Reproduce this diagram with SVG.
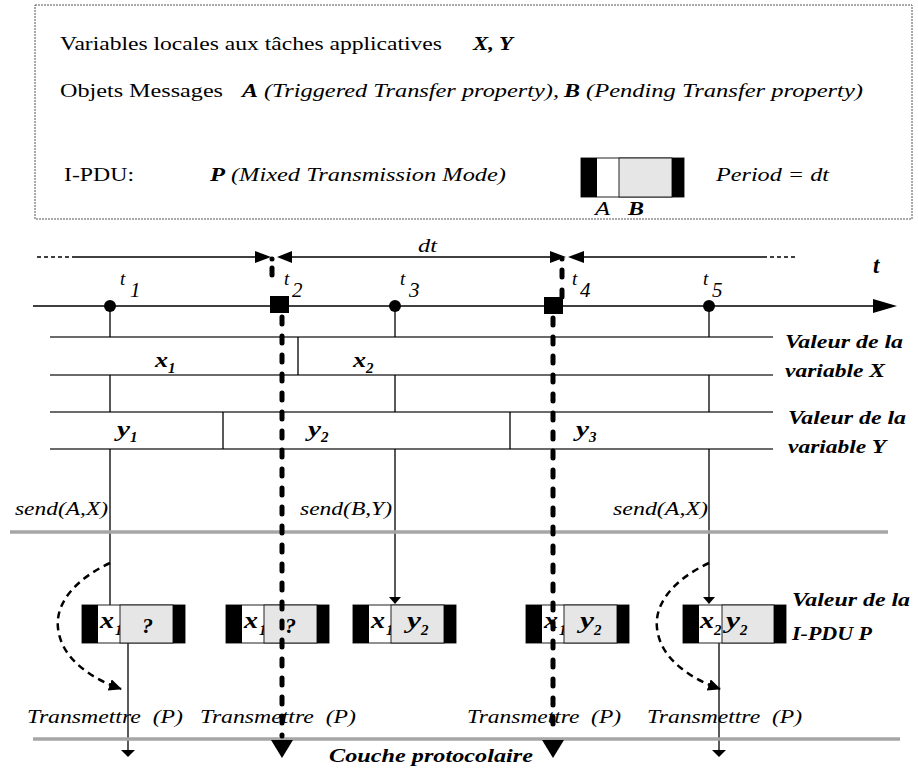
<svg xmlns="http://www.w3.org/2000/svg" width="918" height="769" viewBox="0 0 918 769">
<defs>
<style>
text{font-family:"Liberation Serif","Times New Roman",serif;font-size:19px;fill:#000}
.i{font-style:italic}
.bi{font-style:italic;font-weight:bold}
.sub{font-size:15px}
.big{font-size:24px}
.thin{stroke:#000;stroke-width:1.3;fill:none}
.hl{stroke:#3a3a3a;stroke-width:1.3;fill:none}
.gray{stroke:#a6a6a6;stroke-width:3.5;fill:none}
.thick{stroke:#000;stroke-width:5;stroke-dasharray:7 12;stroke-linecap:round;fill:none}
.curve{stroke:#000;stroke-width:2.5;stroke-dasharray:7 5;fill:none}
.cell{stroke:#222;stroke-width:1}
.w{fill:#fff}
.g{fill:#e6e6e6}
.k{fill:#000}
</style>
<marker id="ah" markerUnits="userSpaceOnUse" markerWidth="14" markerHeight="12" refX="12" refY="6" orient="auto"><path d="M0,0 L13,6 L0,12 z" fill="#000"/></marker>
</defs>
<rect width="918" height="769" fill="#fff"/>

<g id="legend">
<rect x="35" y="5" width="877" height="214" fill="none" stroke="#555" stroke-width="1" stroke-dasharray="2 1"/>
<text x="60" y="50" textLength="382" lengthAdjust="spacingAndGlyphs">Variables locales aux tâches applicatives</text>
<text class="bi" x="473" y="50" textLength="40" lengthAdjust="spacingAndGlyphs">X, Y</text>
<text x="60" y="97" textLength="163" lengthAdjust="spacingAndGlyphs">Objets Messages</text>
<text class="bi" x="242" y="97" textLength="16" lengthAdjust="spacingAndGlyphs">A</text>
<text class="i" x="264" y="97" textLength="295" lengthAdjust="spacingAndGlyphs">(Triggered Transfer property),</text>
<text class="bi" x="564" y="97" textLength="16" lengthAdjust="spacingAndGlyphs">B</text>
<text class="i" x="586" y="97" textLength="277" lengthAdjust="spacingAndGlyphs">(Pending Transfer property)</text>
<text x="64" y="181" textLength="70" lengthAdjust="spacingAndGlyphs">I-PDU:</text>
<text class="bi" x="210" y="181" textLength="15" lengthAdjust="spacingAndGlyphs">P</text>
<text class="i" x="231" y="181" textLength="275" lengthAdjust="spacingAndGlyphs">(Mixed Transmission Mode)</text>
<g id="legend-pdu">
<rect x="581" y="158" width="103" height="39" class="w cell"/>
<rect x="619" y="158" width="53" height="39" class="g cell"/>
<rect x="581" y="158" width="16" height="39" class="k"/>
<rect x="672" y="158" width="12" height="39" class="k"/>
</g>
<text class="i" x="595" y="215" textLength="15" lengthAdjust="spacingAndGlyphs">A</text>
<text class="bi" x="628" y="215" textLength="16" lengthAdjust="spacingAndGlyphs">B</text>
<text class="i" x="716" y="181" textLength="113" lengthAdjust="spacingAndGlyphs">Period = dt</text>
</g>

<g id="period">
<line x1="37" y1="257" x2="75" y2="257" stroke="#000" stroke-width="1.5" stroke-dasharray="4 3"/>
<line x1="75" y1="257" x2="257" y2="257" stroke="#000" stroke-width="1.5"/>
<line x1="291" y1="257" x2="551" y2="257" stroke="#000" stroke-width="1.5"/>
<line x1="583" y1="257" x2="763" y2="257" stroke="#000" stroke-width="1.5"/>
<line x1="763" y1="257" x2="795" y2="257" stroke="#000" stroke-width="1.5" stroke-dasharray="4 3"/>
<polygon points="255,251 271,257 255,263" class="k"/>
<polygon points="292,251 277,257 292,263" class="k"/>
<polygon points="550,251 566,257 550,263" class="k"/>
<polygon points="584,251 568,257 584,263" class="k"/>
<text class="i" x="418" y="252" textLength="19" lengthAdjust="spacingAndGlyphs">dt</text>
</g>

<g id="axis">
<line x1="33" y1="306" x2="876" y2="306" stroke="#000" stroke-width="1.5"/>
<polygon points="873,299 897,306 873,313" class="k"/>
<text class="bi" x="873" y="273" style="font-size:23px">t</text>
<circle cx="110" cy="306" r="6"/>
<circle cx="395" cy="306" r="6"/>
<circle cx="709" cy="306" r="6"/>
<rect x="270" y="296" width="19" height="17" class="k"/>
<rect x="544" y="297" width="19" height="17" class="k"/>
<text class="i" x="120" y="285">t</text><text class="i" x="130" y="297" style="font-size:21px">1</text>
<text class="i" x="284" y="285">t</text><text class="i" x="292" y="297" style="font-size:21px">2</text>
<text class="i" x="400" y="285">t</text><text class="i" x="409" y="297" style="font-size:21px">3</text>
<text class="i" x="572" y="285">t</text><text class="i" x="580" y="297" style="font-size:21px">4</text>
<text class="i" x="703" y="285">t</text><text class="i" x="712" y="297" style="font-size:21px">5</text>
</g>

<g id="varX">
<line x1="50" y1="337" x2="773" y2="337" class="hl"/>
<line x1="50" y1="375" x2="773" y2="375" class="hl"/>
<line x1="298" y1="337" x2="298" y2="375" class="thin"/>
<text class="bi" x="155" y="367" style="font-size:22px" textLength="13" lengthAdjust="spacingAndGlyphs">x</text><text class="bi sub" x="168" y="373">1</text>
<text class="bi" x="353" y="367" style="font-size:22px" textLength="13" lengthAdjust="spacingAndGlyphs">x</text><text class="bi sub" x="366" y="373">2</text>
<text class="bi" x="785" y="348" textLength="118" lengthAdjust="spacingAndGlyphs">Valeur de la</text>
<text class="bi" x="785" y="377" textLength="100" lengthAdjust="spacingAndGlyphs">variable X</text>
</g>

<g id="varY">
<line x1="50" y1="412" x2="773" y2="412" class="hl"/>
<line x1="50" y1="449" x2="773" y2="449" class="hl"/>
<line x1="223" y1="412" x2="223" y2="449" class="thin"/>
<line x1="510" y1="412" x2="510" y2="449" class="thin"/>
<text class="bi" x="117" y="436" style="font-size:22px" textLength="13" lengthAdjust="spacingAndGlyphs">y</text><text class="bi sub" x="130" y="442">1</text>
<text class="bi" x="308" y="436" style="font-size:22px" textLength="13" lengthAdjust="spacingAndGlyphs">y</text><text class="bi sub" x="321" y="442">2</text>
<text class="bi" x="576" y="436" style="font-size:22px" textLength="13" lengthAdjust="spacingAndGlyphs">y</text><text class="bi sub" x="589" y="442">3</text>
<text class="bi" x="788" y="424" textLength="118" lengthAdjust="spacingAndGlyphs">Valeur de la</text>
<text class="bi" x="788" y="453" textLength="98" lengthAdjust="spacingAndGlyphs">variable Y</text>
</g>

<g id="connectors">
<path d="M110,306 V337 M110,375 V412 M110,449 V605" class="thin"/>
<path d="M395,306 V337 M395,375 V412 M395,449 V598" class="thin"/>
<path d="M709,306 V337 M709,375 V412 M709,449 V598" class="thin"/>
<polygon points="389,597 401,597 395,604" class="k"/>
<polygon points="703,597 715,597 709,604" class="k"/>
<path d="M128,643 V751" class="thin"/>
<polygon points="121,750 135,750 128,757" class="k"/>
<path d="M719,643 V751" class="thin"/>
<polygon points="712,750 726,750 719,757" class="k"/>
<line x1="10" y1="532" x2="888" y2="532" class="gray"/>
<line x1="33" y1="739" x2="900" y2="739" class="gray"/>
<path d="M110,563 C80,577 55,600 58,628 C61,658 90,678 121,689" class="curve" marker-end="url(#ah)"/>
<path d="M709,563 C679,577 654,600 657,628 C660,658 689,678 720,689" class="curve" marker-end="url(#ah)"/>
</g>

<g id="pdu1">
<rect x="82" y="605" width="103" height="38" class="w cell"/>
<text class="bi big" x="100" y="628" textLength="14" lengthAdjust="spacingAndGlyphs">x</text><text class="bi sub" x="115" y="635">1</text>
<rect x="120" y="605" width="53" height="38" class="g cell"/>
<text class="bi" x="142" y="633" style="font-size:22px">?</text>
<rect x="82" y="605" width="16" height="38" class="k"/>
<rect x="173" y="605" width="12" height="38" class="k"/>
</g>
<g id="pdu2">
<rect x="226" y="605" width="103" height="38" class="w cell"/>
<text class="bi big" x="244" y="628" textLength="14" lengthAdjust="spacingAndGlyphs">x</text><text class="bi sub" x="259" y="635">1</text>
<rect x="264" y="605" width="53" height="38" class="g cell"/>
<text class="bi" x="285" y="633" style="font-size:22px">?</text>
<rect x="226" y="605" width="16" height="38" class="k"/>
<rect x="317" y="605" width="12" height="38" class="k"/>
</g>
<g id="pdu3">
<rect x="353" y="605" width="103" height="38" class="w cell"/>
<text class="bi big" x="371" y="628" textLength="14" lengthAdjust="spacingAndGlyphs">x</text><text class="bi sub" x="386" y="635">1</text>
<rect x="391" y="605" width="53" height="38" class="g cell"/>
<text class="bi big" x="407" y="628" textLength="14" lengthAdjust="spacingAndGlyphs">y</text><text class="bi sub" x="421" y="635">2</text>
<rect x="353" y="605" width="16" height="38" class="k"/>
<rect x="444" y="605" width="12" height="38" class="k"/>
</g>
<g id="pdu4">
<rect x="526" y="605" width="103" height="38" class="w cell"/>
<text class="bi big" x="544" y="628" textLength="14" lengthAdjust="spacingAndGlyphs">x</text><text class="bi sub" x="559" y="635">1</text>
<rect x="564" y="605" width="53" height="38" class="g cell"/>
<text class="bi big" x="580" y="628" textLength="14" lengthAdjust="spacingAndGlyphs">y</text><text class="bi sub" x="594" y="635">2</text>
<rect x="526" y="605" width="16" height="38" class="k"/>
<rect x="617" y="605" width="12" height="38" class="k"/>
</g>
<g id="pdu5">
<rect x="683" y="605" width="103" height="38" class="w cell"/>
<text class="bi big" x="700" y="628" textLength="14" lengthAdjust="spacingAndGlyphs">x</text><text class="bi sub" x="714" y="635">2</text>
<rect x="722" y="605" width="52" height="38" class="g cell"/>
<text class="bi big" x="726" y="628" textLength="14" lengthAdjust="spacingAndGlyphs">y</text><text class="bi sub" x="740" y="635">2</text>
<rect x="683" y="605" width="16" height="38" class="k"/>
<rect x="774" y="605" width="12" height="38" class="k"/>
</g>
<text class="bi" x="792" y="606" textLength="118" lengthAdjust="spacingAndGlyphs">Valeur de la</text>
<text class="bi" x="792" y="640" textLength="80" lengthAdjust="spacingAndGlyphs">I-PDU P</text>

<g id="sends">
<text class="i" x="15" y="515" textLength="93" lengthAdjust="spacingAndGlyphs">send(A,X)</text>
<text class="i" x="300" y="515" textLength="92" lengthAdjust="spacingAndGlyphs">send(B,Y)</text>
<text class="i" x="613" y="515" textLength="95" lengthAdjust="spacingAndGlyphs">send(A,X)</text>
</g>

<g id="transmit">
<text class="i" x="27" y="723" textLength="156" lengthAdjust="spacingAndGlyphs">Transmettre&#160; (P)</text>
<text class="i" x="200" y="723" textLength="156" lengthAdjust="spacingAndGlyphs">Transmettre&#160; (P)</text>
<text class="i" x="467" y="723" textLength="154" lengthAdjust="spacingAndGlyphs">Transmettre&#160; (P)</text>
<text class="i" x="647" y="723" textLength="155" lengthAdjust="spacingAndGlyphs">Transmettre&#160; (P)</text>
<text class="bi" x="329" y="762" textLength="204" lengthAdjust="spacingAndGlyphs">Couche protocolaire</text>
</g>

<g id="ticks">
<circle cx="272" cy="259" r="2.5"/>
<line x1="272" y1="268" x2="272" y2="280" class="thick" stroke-dasharray="none"/>
<path d="M282,317 V736" class="thick"/>
<polygon points="271,740 293,740 282,758" class="k"/>
<circle cx="562" cy="259" r="2.5"/>
<path d="M562,270 V282 M562,290 V302" class="thick" stroke-dasharray="none"/>
<path d="M553,318 V736" class="thick"/>
<polygon points="542,740 564,740 553,758" class="k"/>
</g>
</svg>
